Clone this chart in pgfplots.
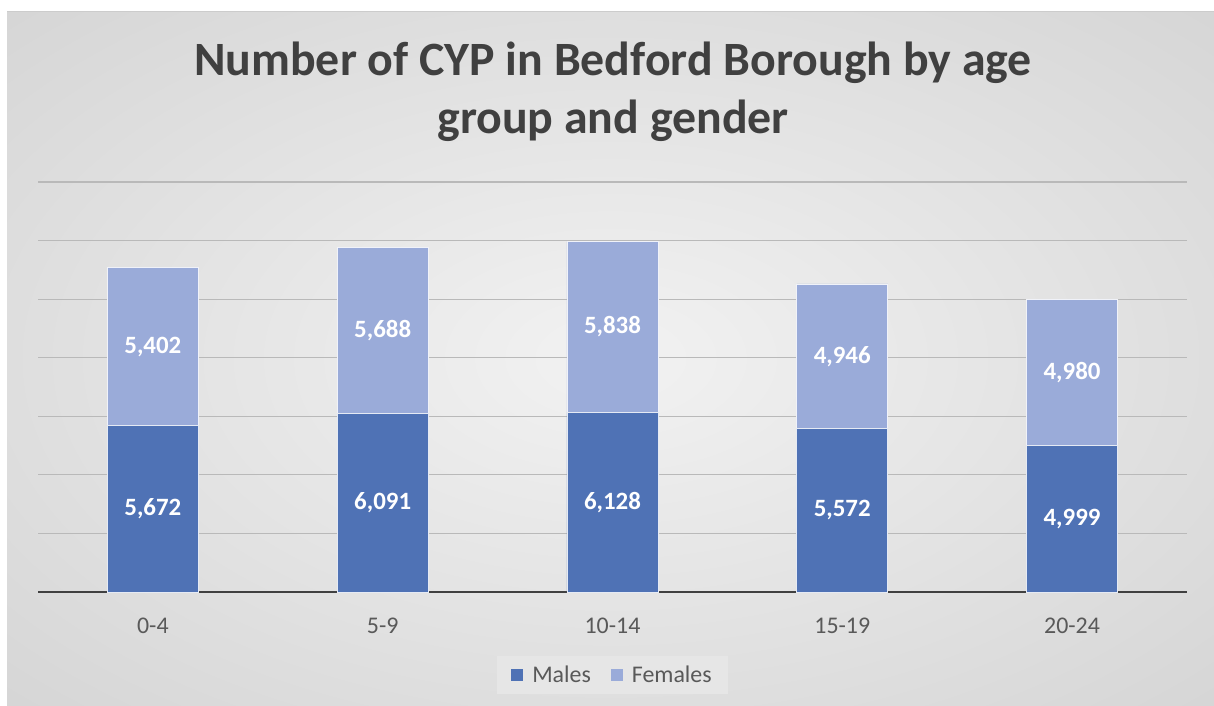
\documentclass[border=0pt]{standalone}
\usepackage{pgfplots}
\pgfplotsset{compat=1.18}
\usepackage{pgfplotstable}
\usepackage{fontspec}
\setmainfont{Carlito}
\definecolor{male}{RGB}{79,114,181}
\definecolor{female}{RGB}{154,171,217}
\definecolor{titlegray}{RGB}{64,64,64}
\definecolor{tickgray}{RGB}{89,89,89}
\definecolor{gridgray}{RGB}{185,185,185}
\definecolor{bgin}{RGB}{242,242,242}
\definecolor{bgout}{RGB}{202,202,202}
\definecolor{legbg}{RGB}{230,230,230}
\pgfdeclareradialshading{bgshade}{\pgfpoint{0bp}{0bp}}{color(0bp)=(bgin); color(50bp)=(bgout)}
\pgfplotstableread{
x m mlab f flab
0 5672 5,672 5402 5,402
1 6091 6,091 5688 5,688
2 6128 6,128 5838 5,838
3 5572 5,572 4946 4,946
4 4999 4,999 4980 4,980
}\data
\begin{document}
\begin{tikzpicture}
\useasboundingbox (0,0) rectangle (1214bp,-706bp);
\fill[white] (0,0) rectangle (1214bp,-706bp);
\shade[shading=bgshade] (7bp,-11bp) rectangle (1214bp,-706bp);
\draw[gray!40, line width=1bp] (7bp,-11bp) -- (1214bp,-11bp);
\node[font=\fontsize{48}{58}\selectfont\bfseries, text=titlegray, align=center] at (613bp,-92bp) {Number of CYP in Bedford Borough by age\\group and gender};
\begin{axis}[
  at={(38bp,-592bp)}, anchor=south west,
  scale only axis, width=1149bp, height=410bp,
  ybar stacked, bar width=91bp,
  xmin=-0.5, xmax=4.5, ymin=0, ymax=14000,
  scaled y ticks=false,
  xtick={0,1,2,3,4}, xticklabels={0-4,5-9,10-14,15-19,20-24},
  ytick={2000,4000,...,14000}, yticklabels={},
  ymajorgrids, grid style={gridgray, line width=1.2bp},
  axis line style={draw=none}, major tick length=0pt,
  xticklabel style={font=\fontsize{24}{28}\selectfont, text=tickgray, yshift=-22bp},
  legend style={at={(0.5,0)}, anchor=center, yshift=-83bp, draw=none, fill=legbg,
    legend columns=2, font=\fontsize{24}{28}\selectfont, text=tickgray,
    inner xsep=14bp, inner ysep=8bp,
    /tikz/every odd column/.append style={column sep=7bp},
    /tikz/every even column/.append style={column sep=18bp}},
  legend image code/.code={\fill[#1,draw=none] (0bp,-6bp) rectangle (12bp,6bp);},
  nodes near coords, point meta=explicit symbolic,
  every node near coord/.append style={font=\fontsize{25}{28}\selectfont\bfseries, text=white, anchor=center},
]
\addplot[fill=male, draw=white!85!male, line width=0.8bp] table[x=x, y=m, meta=mlab] {\data};
\addplot[fill=female, draw=white!85!female, line width=0.8bp] table[x=x, y=f, meta=flab] {\data};
\legend{Males, Females}
\draw[titlegray, line width=3bp] (rel axis cs:0,0) -- (rel axis cs:1,0);
\end{axis}
\end{tikzpicture}
\end{document}
